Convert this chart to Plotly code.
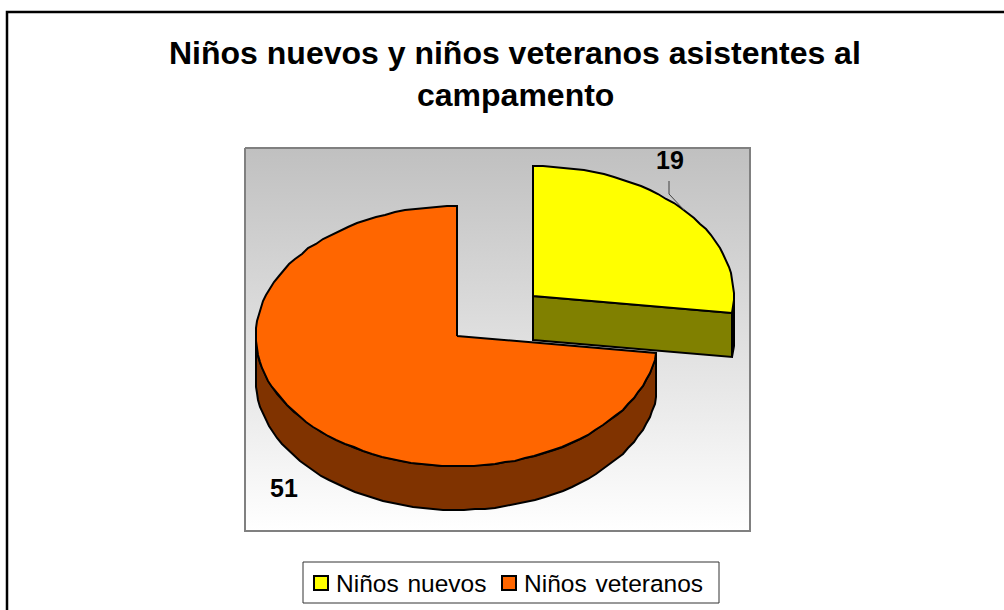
import math
import plotly.graph_objects as go

# Chart data
categories = ["Niños nuevos", "Niños veteranos"]
values = [19, 51]
slice_colors = ["#FFFF00", "#FF6600"]
wall_colors = ["#808000", "#803300"]
title_lines = ["Niños nuevos y niños veteranos asistentes al", "campamento"]

# Layout of the drawing, in page pixels
W, H = 1004, 610
RX, RY, DEPTH = 201, 130, 44
CENTER = (457.5, 336)
EXPLODED_CENTER = (533.5, 296)
STEP = 3


def rim(cx, cy, a0, a1, dy=0):
    """Points of the tilted rim between two clockwise angles (degrees from the top)."""
    n = max(2, int(abs(a1 - a0) / STEP) + 1)
    pts = []
    for i in range(n + 1):
        a = math.radians(a0 + (a1 - a0) * i / n)
        pts.append((math.floor(cx + RX * math.sin(a)), round(cy - RY * math.cos(a) + dy)))
    return pts


def polygon(pts, fill, width=2):
    xs = [p[0] for p in pts] + [pts[0][0]]
    ys = [p[1] for p in pts] + [pts[0][1]]
    return go.Scatter(x=xs, y=ys, mode="lines", fill="toself", fillcolor=fill,
                      line=dict(color="#000000", width=width), hoverinfo="skip",
                      showlegend=False)


total = sum(values)
split = 360 * values[0] / total
mid = split / 2

fig = go.Figure()

# Plot area with its vertical gray fade
fig.add_trace(go.Scatter(
    x=[245, 750, 750, 245, 245], y=[148, 148, 531, 531, 148], mode="lines",
    fill="toself",
    fillgradient=dict(type="vertical", start=148, stop=531,
                      colorscale=[[0, "#C0C0C0"], [1, "#FFFFFF"]]),
    line=dict(color="#808080", width=2), hoverinfo="skip", showlegend=False))

# Large slice: outer wall, then top face
cx, cy = CENTER
wall = rim(cx, cy, split, 270) + rim(cx, cy, 270, split, DEPTH)
fig.add_trace(polygon(wall, wall_colors[1]))
top = [(math.floor(cx), cy)] + rim(cx, cy, split, 360)
fig.add_trace(polygon(top, slice_colors[1]))

# Pulled-out slice: rim wall, cut face, then top face
ex, ey = EXPLODED_CENTER
side = rim(ex, ey, 90, split) + rim(ex, ey, split, 90, DEPTH)
fig.add_trace(polygon(side, "#000000"))
end = rim(ex, ey, split, split)[0]
face = [(math.floor(ex), ey), end, (end[0], end[1] + DEPTH), (math.floor(ex), ey + DEPTH)]
fig.add_trace(polygon(face, wall_colors[0]))
top = [(math.floor(ex), ey)] + rim(ex, ey, 0, split)
fig.add_trace(polygon(top, slice_colors[0]))

# Leader line from the value label to the middle of its slice
tip = rim(ex, ey, mid, mid)[0]
fig.add_trace(go.Scatter(x=[669, 669, tip[0]], y=[181, 194, tip[1]], mode="lines",
                         line=dict(color="#404040", width=1), hoverinfo="skip",
                         showlegend=False))

# Legend swatches
swatch_x = [321, 509]
fig.add_trace(go.Scatter(
    x=swatch_x, y=[583, 583], mode="markers",
    marker=dict(symbol="square", size=14, color=slice_colors,
                line=dict(color="#000000", width=2)),
    hoverinfo="skip", showlegend=False))

FONT = "Liberation Sans, Arial, sans-serif"
annotations = []
for text, y in zip(title_lines, [53, 95]):
    annotations.append(dict(x=515, y=y, text=f"<b>{text}</b>", showarrow=False,
                            xanchor="center", yanchor="middle",
                            font=dict(family=FONT, size=32, color="#000000")))
for v, x, y in zip(values, [670, 284], [160, 488]):
    annotations.append(dict(x=x, y=y, text=f"<b>{v}</b>", showarrow=False,
                            xanchor="center", yanchor="middle",
                            font=dict(family=FONT, size=25, color="#000000")))
for name, x in zip(categories, [334, 522]):
    annotations.append(dict(x=x, y=583, text=name.replace(" ", "\u00a0\u200a"),
                            showarrow=False, xanchor="left", yanchor="middle",
                            font=dict(family=FONT, size=24.5, color="#000000")))

fig.update_layout(
    width=W, height=H, margin=dict(l=0, r=0, t=0, b=0),
    paper_bgcolor="#FFFFFF", plot_bgcolor="#FFFFFF", showlegend=False,
    xaxis=dict(range=[0, W], visible=False, fixedrange=True),
    yaxis=dict(range=[H, 0], visible=False, fixedrange=True),
    annotations=annotations,
    shapes=[
        dict(type="rect", x0=7, y0=12, x1=1020, y1=640, layer="below",
             line=dict(color="#000000", width=2.5), fillcolor="rgba(0,0,0,0)"),
        dict(type="rect", x0=303, y0=562, x1=719, y1=603, layer="below",
             line=dict(color="#333333", width=1), fillcolor="#FFFFFF"),
    ],
)

fig.write_html("out.html", config={"displayModeBar": False})
